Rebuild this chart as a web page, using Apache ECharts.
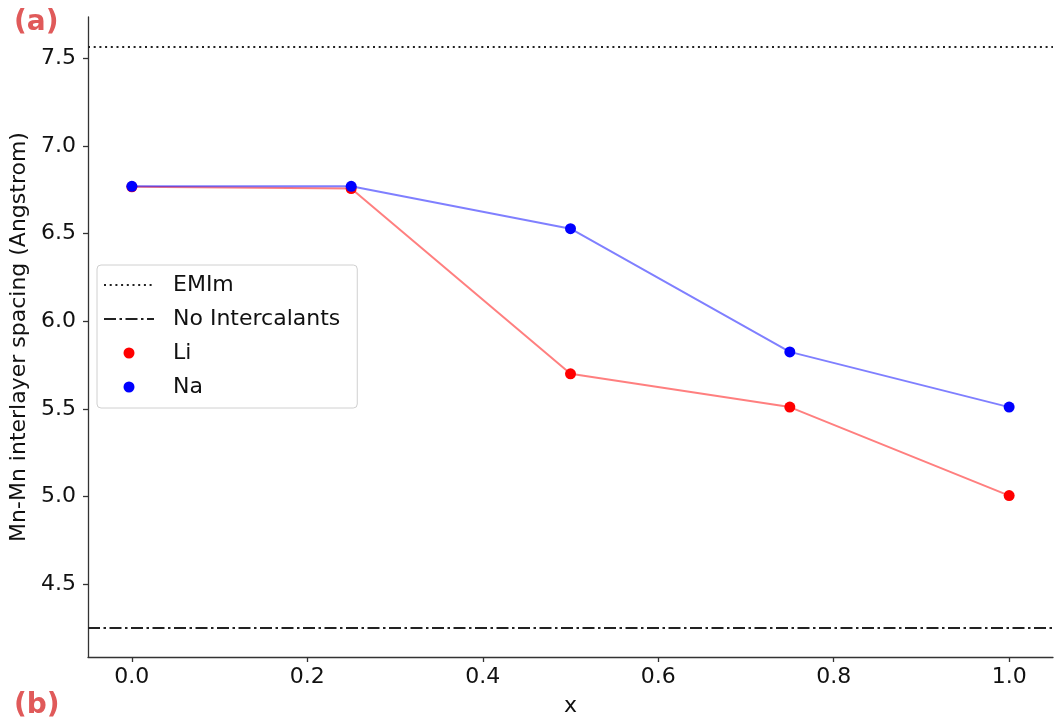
<!DOCTYPE html>
<html>
<head>
<meta charset="utf-8">
<script src="https://cdn.jsdelivr.net/npm/echarts@6/dist/echarts.min.js"></script>
<style>html,body{margin:0;padding:0;background:#fff}#c{width:1054px;height:722px}</style>
</head>
<body>
<div id="c"></div>
<script>
// ---- data ----
const xValues = [0.0, 0.25, 0.5, 0.75, 1.0];
const liValues = [6.767, 6.757, 5.70, 5.51, 5.005];
const naValues = [6.770, 6.770, 6.528, 5.825, 5.51];
const emimValue = 7.565;
const noIntercalantsValue = 4.25;
const xRange = [-0.05, 1.05];
const yRange = [4.084, 7.736];
const xTicks = [0.0, 0.2, 0.4, 0.6, 0.8, 1.0];
const yTicks = [4.5, 5.0, 5.5, 6.0, 6.5, 7.0, 7.5];
const seriesNames = ['EMIm', 'No Intercalants', 'Li', 'Na'];

const FONT = 'DejaVu Sans';
const chart = echarts.init(document.getElementById('c'), null, {renderer: 'canvas'});

const pairs = (xs, ys) => xs.map((x, i) => [x, ys[i]]);
const hiddenDot = {color: 'rgba(0,0,0,0)', borderWidth: 0, opacity: 0};

chart.setOption({
  animation: false,
  backgroundColor: '#fff',
  grid: {left: 87, right: 1, top: 17, bottom: 64, containLabel: false},
  xAxis: {
    type: 'value', min: xRange[0], max: xRange[1],
    name: 'x', nameLocation: 'middle', nameGap: 38,
    nameTextStyle: {fontFamily: FONT, fontSize: 22, color: '#111'},
    axisLine: {show: true, onZero: false, lineStyle: {color: '#333', width: 1.3}},
    axisTick: {show: true, customValues: xTicks, length: 5, lineStyle: {color: '#333', width: 1.3}},
    axisLabel: {customValues: xTicks, formatter: v => v.toFixed(1), fontFamily: FONT, fontSize: 22, color: '#111', margin: 9},
    splitLine: {show: false}
  },
  yAxis: {
    type: 'value', min: yRange[0], max: yRange[1],
    name: 'Mn-Mn interlayer spacing (Angstrom)', nameLocation: 'middle', nameGap: 58, nameRotate: 90,
    nameTextStyle: {fontFamily: FONT, fontSize: 22, color: '#111'},
    axisLine: {show: true, onZero: false, lineStyle: {color: '#333', width: 1.3}},
    axisTick: {show: true, customValues: yTicks, length: 5, lineStyle: {color: '#333', width: 1.3}},
    axisLabel: {customValues: yTicks, formatter: v => v.toFixed(1), fontFamily: FONT, fontSize: 22, color: '#111', margin: 12},
    splitLine: {show: false}
  },
  legend: {
    orient: 'vertical', left: 97, top: 265,
    data: [
      {name: seriesNames[0], itemStyle: hiddenDot},
      {name: seriesNames[1], itemStyle: hiddenDot},
      {name: seriesNames[2], icon: 'circle'},
      {name: seriesNames[3], icon: 'circle'}
    ],
    itemWidth: 50, itemHeight: 11, itemGap: 12,
    padding: [9, 17, 10, 6],
    backgroundColor: '#fff', borderColor: '#d0d0d0', borderWidth: 1, borderRadius: 4,
    textStyle: {fontFamily: FONT, fontSize: 22, color: '#111', lineHeight: 22, padding: [0, 0, 0, 14]},
    selectedMode: false
  },
  series: [
    {
      name: seriesNames[0], type: 'line', symbol: 'none', z: 1,
      data: pairs(xRange, [emimValue, emimValue]),
      lineStyle: {color: '#222', width: 2, type: [2, 3.7]},
      itemStyle: {color: '#222'}
    },
    {
      name: seriesNames[1], type: 'line', symbol: 'none', z: 1,
      data: pairs(xRange, [noIntercalantsValue, noIntercalantsValue]),
      lineStyle: {color: '#222', width: 2, type: [12, 3.5, 2.5, 3.5]},
      itemStyle: {color: '#222'}
    },
    {
      name: seriesNames[2], type: 'line', symbol: 'circle', symbolSize: 11, z: 2,
      data: pairs(xValues, liValues),
      lineStyle: {color: 'rgba(255,0,0,0.5)', width: 2},
      itemStyle: {color: '#ff0000'}
    },
    {
      name: seriesNames[3], type: 'line', symbol: 'circle', symbolSize: 11, z: 3,
      data: pairs(xValues, naValues),
      lineStyle: {color: 'rgba(0,0,255,0.5)', width: 2},
      itemStyle: {color: '#0000ff'}
    }
  ],
  graphic: [
    {type: 'text', left: 14, top: 9, style: {text: '(a)', fontFamily: 'DejaVu Sans', fontWeight: 'bold', fontSize: 28, fill: '#e05a5a'}},
    {type: 'text', left: 14, top: 692, style: {text: '(b)', fontFamily: 'DejaVu Sans', fontWeight: 'bold', fontSize: 28, fill: '#e05a5a'}}
  ]
});
</script>
</body>
</html>
